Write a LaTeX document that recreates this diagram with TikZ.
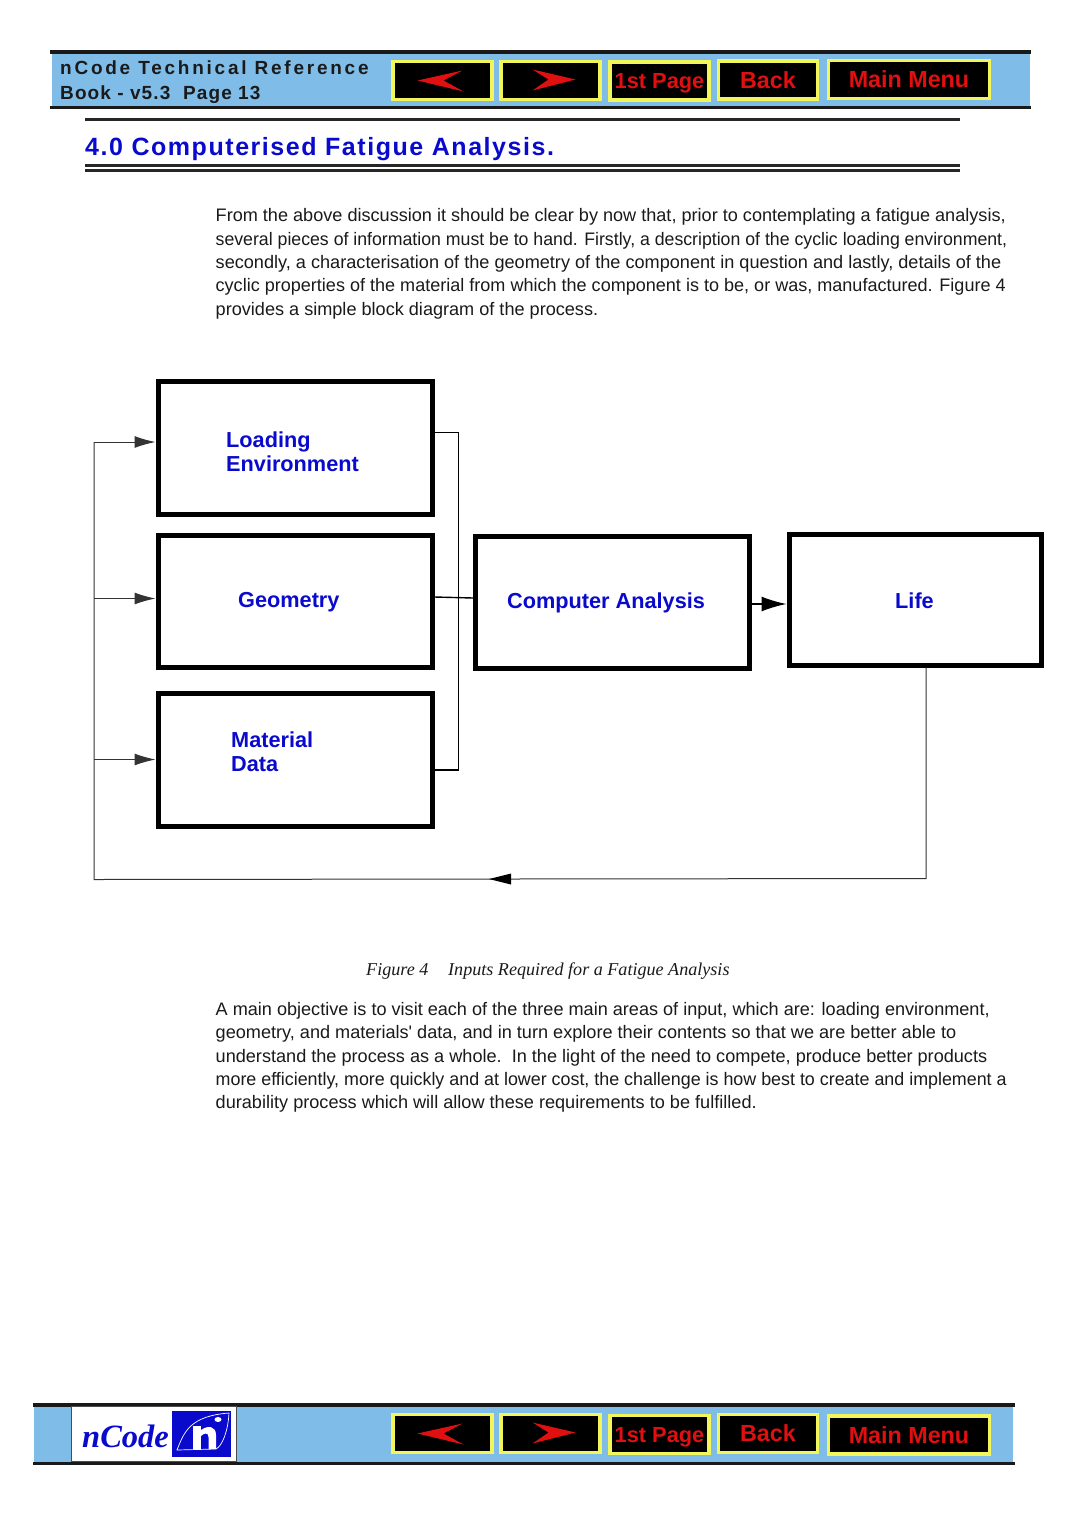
\documentclass[tikz,border=0pt]{standalone}
\usepackage{fontspec}
\usepackage{graphicx}
\setmainfont{Liberation Sans}
\newfontfamily\serifit{Liberation Serif}
\usetikzlibrary{arrows.meta}
\definecolor{barblue}{HTML}{7FBDE8}
\definecolor{navblue}{HTML}{0A0ACD}
\definecolor{navred}{HTML}{E01010}
\definecolor{navyel}{HTML}{F2F65A}
\definecolor{txt}{HTML}{1A1A1A}
\tikzset{
  x=1pt,y=-1pt,
  barrule/.style={line width=3.6pt,draw=black!90},
  navbtn/.style={draw=navyel,line width=3.4pt,fill=black,text=navred,font=\bfseries\fontsize{23.3}{23.3}\selectfont,inner sep=0pt,text height=16.5pt,text depth=0pt},
  smallbtn/.style={font=\bfseries\fontsize{21.8}{21.8}\selectfont,text height=15.5pt},
  bigbox/.style={draw=black,line width=5pt,fill=white,inner sep=0pt},
  boxlabel/.style={text=navblue,font=\bfseries\fontsize{21.7}{25}\selectfont,anchor=base west,inner sep=0pt},
  bodyline/.style={text=txt,font=\fontsize{18.1}{20}\selectfont,anchor=base west,inner sep=0pt},
  thinline/.style={line width=1.4pt,draw=black},
  thingrey/.style={line width=1pt,draw=black!80},
  tipped/.style={-{Latex[length=21pt,width=12pt]}},
  bigtipped/.style={-{Latex[length=25pt,width=15pt]}},
  redarrow/.style={fill=navred,draw=none},
  hrule/.style={draw=black!85,line width=2.2pt},
}
\newcommand{\fitline}[2]{\resizebox{#1pt}{\height}{#2}}
\newcommand{\navrow}[5]{%
  \node[navbtn,minimum width=99pt,minimum height=38pt] (prev#1) at (442.5,#2) {};
  \node[navbtn,minimum width=99pt,minimum height=38pt] (next#1) at (550.5,#2) {};
  \node[navbtn,smallbtn,minimum width=99pt,minimum height=38pt] (first#1) at (659.5,#3) {1st Page};
  \node[navbtn,minimum width=99pt,minimum height=38pt] (back#1) at (768,#4) {Back};
  \node[navbtn,minimum width=161pt,minimum height=38pt] (menu#1) at (909,#5) {Main Menu};
  \fill[redarrow] ([xshift=-25pt,yshift=0pt]prev#1.center) -- ([xshift=21pt,yshift=-11pt]prev#1.center) -- ([xshift=1pt]prev#1.center) -- ([xshift=20pt,yshift=10pt]prev#1.center) -- cycle;
  \fill[redarrow] ([xshift=25pt,yshift=1pt]next#1.center) -- ([xshift=-18pt,yshift=-10pt]next#1.center) -- ([xshift=-2pt,yshift=1pt]next#1.center) -- ([xshift=-18pt,yshift=11pt]next#1.center) -- cycle;
}
\begin{document}
\begin{tikzpicture}
\useasboundingbox (0,0) rectangle (1080,1529);
\fill[white] (0,0) rectangle (1080,1529);
% top bar
\fill[barblue] (52,52) rectangle (1030,107);
\draw[barrule] (49.5,52) -- (1030.5,52);
\draw[barrule] (49.5,107.5) -- (1031,107.5);
\node[anchor=base west,inner sep=0pt,text=txt,font=\bfseries\fontsize{19}{19}\selectfont] (booktitle) at (60,74) {\addfontfeature{LetterSpace=14.5}nCode Technical Reference};
\node[anchor=base west,inner sep=0pt,text=txt,font=\bfseries\fontsize{19}{19}\selectfont] (bookpage) at (60,99) {\addfontfeature{LetterSpace=5.8}Book - v5.3\ \ Page 13};
\navrow{top}{80.5}{81}{80}{79.5}
% heading
\draw[hrule] (85,119.5) -- (960,119.5);
\node[anchor=base west,inner sep=0pt,text=navblue,font=\bfseries\fontsize{25}{25}\selectfont] (heading) at (85,155) {\addfontfeature{LetterSpace=6.2}4.0 Computerised Fatigue Analysis.};
\draw[hrule] (85,165.5) -- (960,165.5);
\draw[hrule] (85,170.5) -- (960,170.5);
% body 1
\node[bodyline] (p1) at (215.5,221) {\fitline{790}{From the above discussion it should be clear by now that, prior to contemplating a fatigue analysis,}};
\node[bodyline] (p2) at (215.5,245) {\fitline{791.5}{several pieces of information must be to hand. Firstly, a description of the cyclic loading environment,}};
\node[bodyline] (p3) at (215.5,268) {\fitline{785.5}{secondly, a characterisation of the geometry of the component in question and lastly, details of the}};
\node[bodyline] (p4) at (215.5,291.5) {\fitline{790}{cyclic properties of the material from which the component is to be, or was, manufactured. Figure 4}};
\node[bodyline] (p5) at (215.5,315) {\fitline{382.5}{provides a simple block diagram of the process.}};
% boxes
\node[bigbox,minimum width=274pt,minimum height=133pt] (load) at (295,448) {};
\node[bigbox,minimum width=274pt,minimum height=132pt] (geom) at (295,601) {};
\node[bigbox,minimum width=274pt,minimum height=133pt] (mat) at (295,759.5) {};
\node[bigbox,minimum width=274pt,minimum height=132pt] (comp) at (612.5,602) {};
\node[bigbox,minimum width=252pt,minimum height=131pt] (life) at (915,599.5) {};
\node[boxlabel] (loadt1) at (226,447) {Loading};
\node[boxlabel] (loadt2) at (226,471) {Environment};
\node[boxlabel] (geomt) at (238,607) {Geometry};
\node[boxlabel] (matt1) at (231,747) {Material};
\node[boxlabel] (matt2) at (231,771) {Data};
\node[boxlabel] (compt) at (507,608) {Computer Analysis};
\node[boxlabel] (lifet) at (895,608) {Life};
% connectors
\coordinate (busT) at (458.5,432.5);
\coordinate (busB) at (458.5,770);
\draw[thinline] (load.east |- busT) -- (busT) -- (busB) -- (mat.east |- busB);
\draw[thinline] (geom.east |- 0,597) -- (comp.west |- 0,598);
\draw[thinline,bigtipped] (comp.east |- 0,604) -- (life.west |- 0,604);
\coordinate (lifeD) at (926,878.5);
\coordinate (loopL) at (94,879.5);
\coordinate (midA) at (489,879);
\draw[thingrey] (life.south -| lifeD) -- (lifeD) -- (loopL) -- (94,442);
\fill[black] (midA) -- (511,873.5) -- (511,884.5) -- cycle;
\draw[thingrey,tipped] (94,442) -- (load.west |- 0,442);
\draw[thingrey,tipped] (94,598.5) -- (geom.west |- 0,598.5);
\draw[thingrey,tipped] (94,759.5) -- (mat.west |- 0,759.5);
% caption
\node[anchor=base west,inner sep=0pt,text=txt,font=\serifit\itshape\fontsize{18.1}{20}\selectfont] (capa) at (366,975) {Figure 4};
\node[anchor=base west,inner sep=0pt,text=txt,font=\serifit\itshape\fontsize{18.1}{20}\selectfont] (capb) at (448,975) {Inputs Required for a Fatigue Analysis};
% body 2
\node[bodyline] (q1) at (215.5,1015) {\fitline{774}{A main objective is to visit each of the three main areas of input, which are: loading environment,}};
\node[bodyline] (q2) at (215.5,1038) {\fitline{740.5}{geometry, and materials\textquotesingle{} data, and in turn explore their contents so that we are better able to}};
\node[bodyline] (q3) at (215.5,1062) {\fitline{771.5}{understand the process as a whole.\ \ In the light of the need to compete, produce better products}};
\node[bodyline] (q4) at (215.5,1085) {\fitline{791}{more efficiently, more quickly and at lower cost, the challenge is how best to create and implement a}};
\node[bodyline] (q5) at (215.5,1108) {\fitline{541}{durability process which will allow these requirements to be fulfilled.}};
% bottom bar
\fill[barblue] (34,1405) rectangle (1013,1463);
\draw[barrule] (33,1405) -- (1014.5,1405);
\draw[barrule] (33,1463.5) -- (1014.5,1463.5);
\node[draw=black!70,line width=.8pt,fill=white,minimum width=165pt,minimum height=55pt,inner sep=0pt] (logobox) at (154,1433.5) {};
\node[anchor=base west,inner sep=0pt,text=navblue,font=\serifit\bfseries\itshape\fontsize{32.5}{32}\selectfont] (logotext) at (82,1447) {nCode};
\node[fill=navblue,minimum width=59pt,minimum height=46pt,inner sep=0pt] (logomark) at (201.5,1434) {};
\draw[white,line width=.7pt] (177,1450) .. controls (184,1432) and (190,1416) .. (229,1413) .. controls (228,1432) and (222,1446) .. (216,1449) -- cycle;
\fill[white] (193,1426) rectangle (201,1449);
\fill[white] (201,1430) .. controls (208,1425) and (216,1426) .. (216,1435) -- (216,1449) -- (208.5,1449) -- (208.5,1437) .. controls (208.5,1432) and (204,1433) .. (201,1436) -- cycle;
\fill[white] (218,1419.5) ellipse (3.5 and 2.5);
\navrow{bot}{1433.5}{1434.5}{1433.5}{1435}
\end{tikzpicture}
\end{document}
